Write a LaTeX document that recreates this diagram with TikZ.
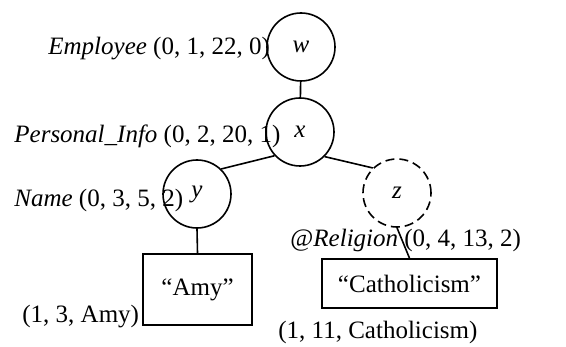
\documentclass[tikz,border=0pt]{standalone}
\usepackage{fontspec}
\setmainfont{Liberation Serif}
\begin{document}
\begin{tikzpicture}[x=0.5pt,y=-0.5pt,
  every node/.style={font=\fontsize{12.5}{14}\selectfont},
  vertex/.style={circle,draw,line width=0.8pt,minimum size=34pt,inner sep=0pt},
  leaf/.style={rectangle,draw,line width=0.8pt,inner sep=0pt},
  tag/.style={anchor=west,inner sep=0pt},
  edge/.style={line width=0.8pt}]
\useasboundingbox (0,0) rectangle (566,347);
% element nodes
\node[vertex] (w) at (301,47) {\textit{w}};
\node[vertex] (x) at (300,132) {\textit{x}};
\node[vertex] (y) at (197,194) {\textit{y}};
\node[vertex,dash pattern=on 4.5pt off 2.5pt] (z) at (397,193) {\textit{z}};
% text leaves
\node[leaf,minimum width=54.5pt,minimum height=35.5pt] (amy) at (197.5,289.5) {“Amy”};
\node[leaf,minimum width=87.5pt,minimum height=24.5pt] (cath) at (409.5,283.5) {“Catholicism”};
% edges
\draw[edge] (w) -- (x);
\draw[edge] (x.223) -- (y.46);
\draw[edge] (x.315) -- (z.134);
\draw[edge] (y.south) -- (amy.north);
\draw[edge] (z.south) -- (cath.north);
% node labels
\node[tag] (lw) at (48,49) {\textit{Employee} (0, 1, 22, 0)};
\node[tag] (lx) at (14,136) {\textit{Personal\_Info} (0, 2, 20, 1)};
\node[tag] (ly) at (14,200) {\textit{Name} (0, 3, 5, 2)};
\node[tag] (lz) at (290,240) {@\textit{Religion} (0, 4, 13, 2)};
\node[tag] (la) at (22,317) {(1, 3, Amy)};
\node[tag] (lc) at (278,332) {(1, 11, Catholicism)};
\end{tikzpicture}
\end{document}
